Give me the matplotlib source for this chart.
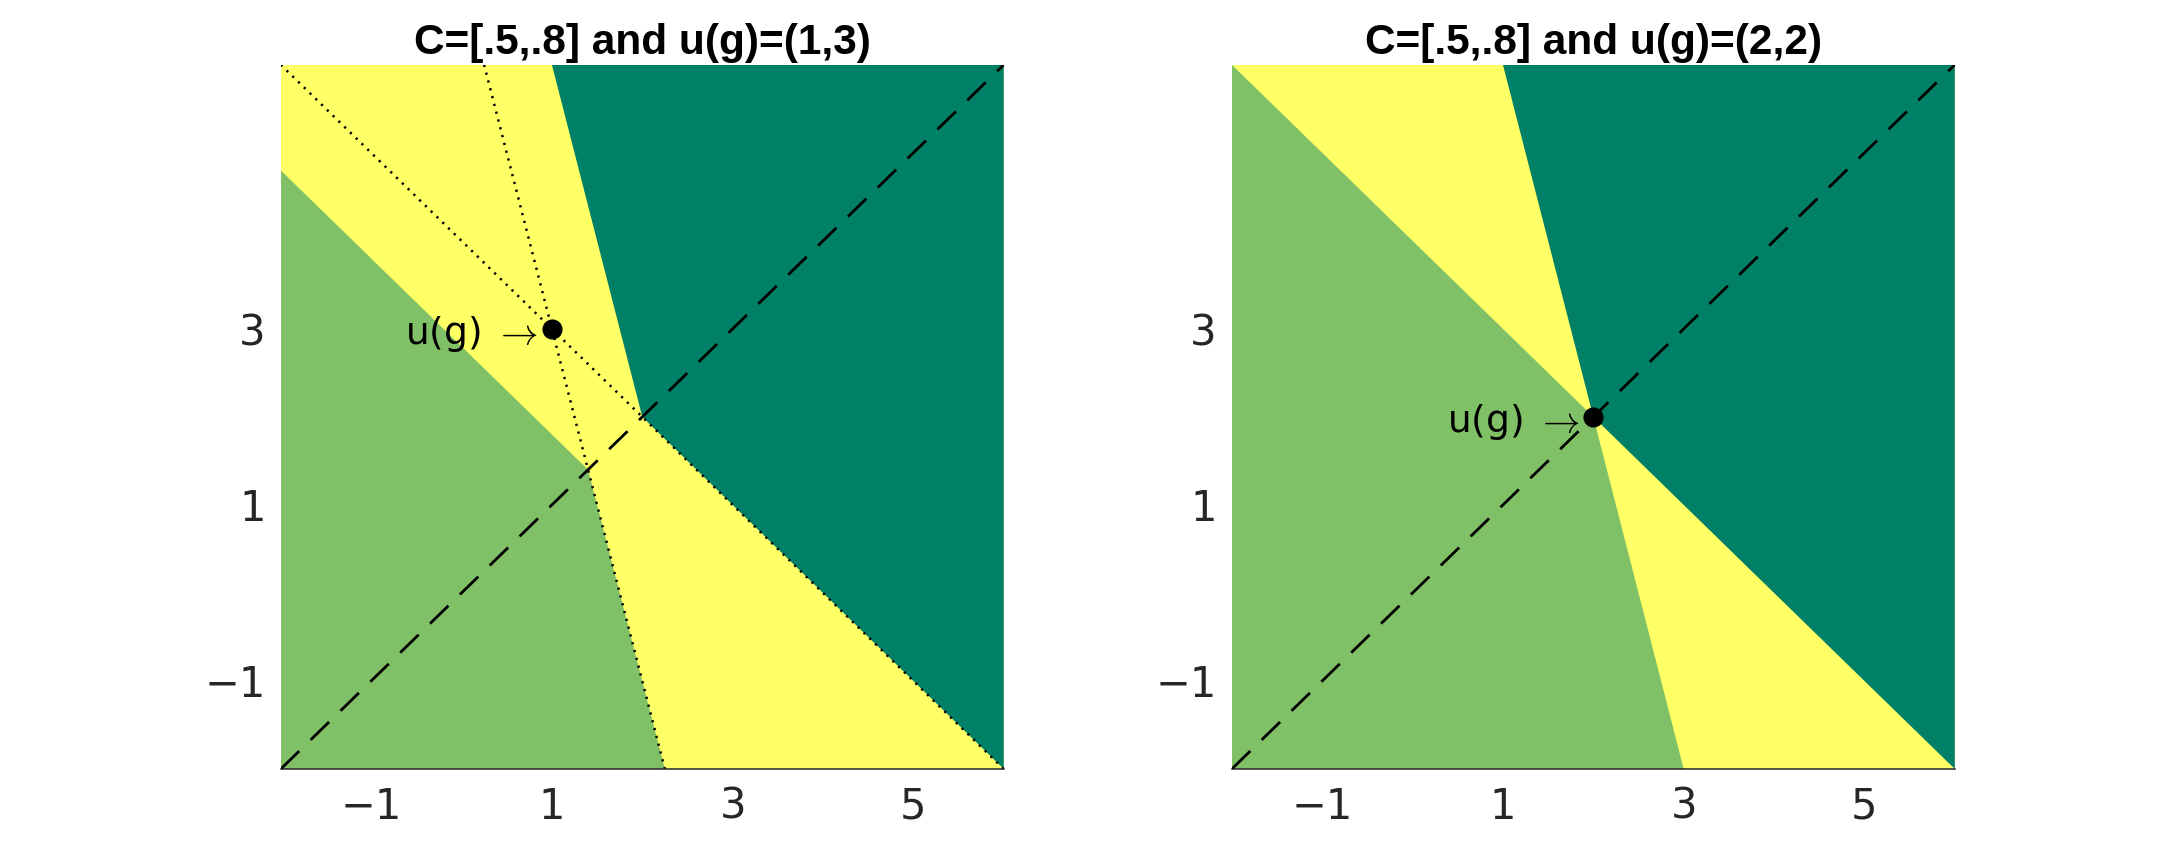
#!/usr/bin/env python
"""Two panels: acts ranked against g under the probability set C -> out.png."""

import matplotlib
matplotlib.use("Agg")
import matplotlib.pyplot as plt

# Probability set C = [p_lo, p_hi] and the utility vector u(g) of each panel.
C_RANGE = [0.5, 0.8]
UG_POINTS = [(1, 3), (2, 2)]
SHOW_ISO = [True, False]          # dotted iso-utility lines through u(g)
TITLES = ["C=[.5,.8] and u(g)=(1,3)", "C=[.5,.8] and u(g)=(2,2)"]

LIM = [-2, 6]
XTICKS = [-1, 1, 3, 5]
YTICKS = [-1, 1, 3]

cmap = plt.get_cmap("summer")
COL_WORSE = cmap(0.5)     # light green
COL_BETTER = cmap(0.0)    # dark green
COL_UNDEC = cmap(1.0)     # yellow

plt.rcParams["font.family"] = ["DejaVu Sans"]
plt.rcParams["lines.scale_dashes"] = False


def clip(poly, a, b, c):
    """Keep the part of polygon `poly` where a*x + b*y <= c."""
    out = []
    n = len(poly)
    for i in range(n):
        p, q = poly[i], poly[(i + 1) % n]
        fp = a * p[0] + b * p[1] - c
        fq = a * q[0] + b * q[1] - c
        if fp <= 0:
            out.append(p)
        if fp * fq < 0:
            t = fp / (fp - fq)
            out.append((p[0] + t * (q[0] - p[0]), p[1] + t * (q[1] - p[1])))
    return out


def draw_panel(ax, ug, show_iso, title):
    lo_x, hi_x = LIM
    box = [(lo_x, lo_x), (hi_x, lo_x), (hi_x, hi_x), (lo_x, hi_x)]
    eu_g = [p * ug[0] + (1 - p) * ug[1] for p in C_RANGE]
    lo, hi = min(eu_g), max(eu_g)

    ax.set_facecolor(COL_UNDEC)
    worse, better = box, box
    for p in C_RANGE:
        worse = clip(worse, p, 1 - p, lo)
        better = clip(better, -p, -(1 - p), -hi)
    ax.fill(*zip(*worse), color=COL_WORSE, lw=0, zorder=1)
    ax.fill(*zip(*better), color=COL_BETTER, lw=0, zorder=1)

    if show_iso:
        for p in C_RANGE:
            ax.axline(ug, slope=-p / (1 - p), color="black", lw=1.8,
                      dashes=(1.6, 4.2), zorder=2)

    ax.plot(LIM, LIM, color="black", lw=2.0, dashes=(18.5, 11.5), zorder=3)
    ax.plot(*ug, "o", color="black", ms=13.5, zorder=4)
    ax.annotate("u(g) $\\rightarrow$", xy=ug, xytext=(-10, 0),
                textcoords="offset points", ha="right", va="center_baseline",
                fontsize=27, color="black", math_fontfamily="cm", zorder=5)

    ax.set_xlim(LIM)
    ax.set_ylim(LIM)
    ax.set_xticks(XTICKS)
    ax.set_yticks(YTICKS)
    ax.set_xticklabels([f"{t:d}".replace("-", "\u2212") for t in XTICKS])
    ax.set_yticklabels([f"{t:d}".replace("-", "\u2212") for t in YTICKS])
    ax.tick_params(length=0, labelsize=30, labelcolor="#262626")
    ax.tick_params(axis="x", pad=12)
    ax.tick_params(axis="y", pad=11)
    for side in ("top", "right", "left"):
        ax.spines[side].set_visible(False)
    ax.spines["bottom"].set_color("#262626")
    ax.spines["bottom"].set_linewidth(1.1)
    ax.set_title(title, fontsize=30.5, fontweight="bold", pad=8,
                 family=["Liberation Sans", "DejaVu Sans"])


def main():
    fig = plt.figure(figsize=(21.6, 8.64), dpi=100)
    positions = [[0.13, 0.11, 0.3347, 0.815], [0.5703, 0.11, 0.3347, 0.815]]
    for pos, ug, show_iso, title in zip(positions, UG_POINTS, SHOW_ISO, TITLES):
        ax = fig.add_axes(pos)
        draw_panel(ax, ug, show_iso, title)
    fig.savefig("out.png", dpi=100)


if __name__ == "__main__":
    main()
